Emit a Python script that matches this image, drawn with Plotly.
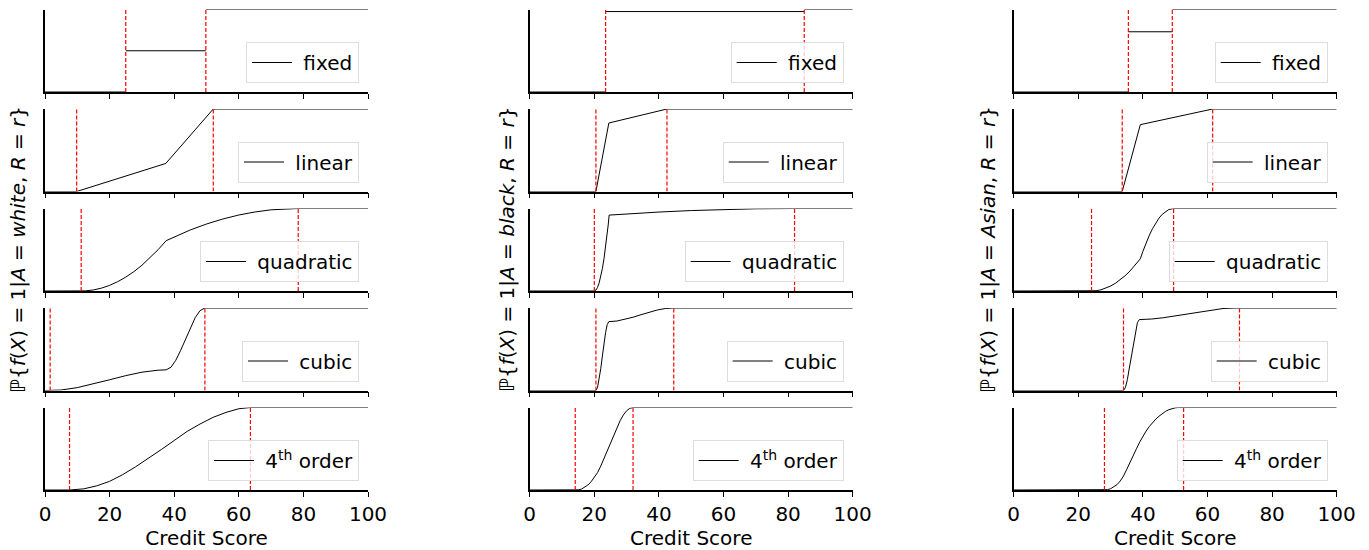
import plotly.graph_objects as go

# ---------------- data ----------------
groups = ["white", "black", "Asian"]
methods = ["fixed", "linear", "quadratic", "cubic", "4th order"]
legend_labels = ["fixed", "linear", "quadratic", "cubic", "4<sup>th</sup> order"]
x_ticks = [0, 20, 40, 60, 80, 100]

# thresholds (lower, upper) per method, for each group
white_thresholds = [(25.0, 49.8), (9.8, 52.1), (11.2, 78.4), (1.6, 49.5), (7.6, 63.6)]
black_thresholds = [(23.5, 85.0), (20.5, 42.5), (20.0, 82.0), (20.5, 44.6), (14.1, 32.0)]
asian_thresholds = [(35.5, 49.1), (33.6, 61.6), (24.1, 49.5), (34.0, 69.9), (28.1, 52.6)]

# ---- white ----
white_fixed_x = [0, 25.0, None, 25.0, 49.8, None, 49.8, 100]
white_fixed_y = [0, 0, None, 0.5, 0.5, None, 1, 1]
white_linear_x = [0, 9.8, 37.4, 52.1, 100]
white_linear_y = [0, 0, 0.34, 1, 1]
white_quad_x = [0, 11.2, 12.5, 15, 17.5, 20, 22.5, 25, 27.5, 30, 32.5, 35, 37.5,
                40, 45, 50, 55, 60, 65, 70, 75, 78.4, 100]
white_quad_y = [0, 0, 0.0015, 0.013, 0.035, 0.068, 0.113, 0.168, 0.234, 0.312, 0.4, 0.5, 0.61,
                0.656, 0.74, 0.812, 0.872, 0.921, 0.958, 0.984, 0.997, 1, 1]
white_cubic_x = [0, 1.6, 5, 10, 15, 20, 25, 30, 35, 37.5, 39, 40.5, 42, 43.5, 45, 46.5, 48, 49.5, 100]
white_cubic_y = [0, 0, 0.006, 0.035, 0.078, 0.13, 0.18, 0.222, 0.246, 0.25, 0.282, 0.367, 0.487,
                 0.625, 0.763, 0.883, 0.968, 1, 1]
white_quart_x = [0, 7.6, 12, 16, 20, 24, 28, 32, 36, 40, 44, 48, 52, 56, 60, 63.6, 100]
white_quart_y = [0, 0, 0.014, 0.05, 0.105, 0.185, 0.28, 0.38, 0.49, 0.6, 0.71, 0.8, 0.88, 0.94,
                 0.985, 1, 1]

# ---- black ----
black_fixed_x = [0, 23.5, None, 23.5, 85.0, None, 85.0, 100]
black_fixed_y = [0, 0, None, 0.975, 0.975, None, 1, 1]
black_linear_x = [0, 20.5, 24.5, 42.5, 100]
black_linear_y = [0, 0, 0.83, 1, 1]
black_quad_x = [0, 20, 20.5, 21, 21.5, 22, 22.5, 23, 23.5, 24, 24.3, 24.6, 30, 40, 50, 60, 70, 82, 100]
black_quad_y = [0, 0, 0.011, 0.043, 0.098, 0.174, 0.272, 0.391, 0.535, 0.696, 0.8, 0.92,
                0.934, 0.957, 0.975, 0.988, 0.9965, 1, 1]
black_cubic_x = [0, 20.5, 21, 21.5, 22, 22.5, 23, 23.5, 24, 24.5, 27, 29.5, 32, 34.5, 37, 39.5, 42, 44.3, 100]
black_cubic_y = [0, 0, 0.036, 0.13, 0.264, 0.418, 0.571, 0.705, 0.799, 0.835, 0.842, 0.861,
                 0.888, 0.919, 0.949, 0.976, 0.994, 1, 1]
black_quart_x = [0, 14.1, 15, 16, 17, 18, 19, 20, 21, 22, 23, 24, 25, 26, 27, 28, 29, 30, 31, 32, 100]
black_quart_y = [0, 0, 0.002, 0.01, 0.03, 0.06, 0.1, 0.15, 0.21, 0.29, 0.38, 0.47, 0.57, 0.67,
                 0.76, 0.84, 0.91, 0.96, 0.99, 1, 1]

# ---- Asian ----
asian_fixed_x = [0, 35.5, None, 35.5, 49.1, None, 49.1, 100]
asian_fixed_y = [0, 0, None, 0.73, 0.73, None, 1, 1]
asian_linear_x = [0, 33.6, 39.2, 61.6, 100]
asian_linear_y = [0, 0, 0.81, 1, 1]
asian_quad_x = [0, 24.1, 25.5, 27, 28.5, 30, 31.5, 33, 34.5, 36, 37.5, 39.2,
                40, 41, 42, 43, 44, 45, 46, 47, 48, 49.5, 100]
asian_quad_y = [0, 0, 0.0034, 0.014, 0.033, 0.06, 0.094, 0.135, 0.185, 0.242, 0.307, 0.39,
                0.481, 0.585, 0.677, 0.757, 0.826, 0.884, 0.93, 0.964, 0.987, 1, 1]
asian_cubic_x = [0, 34, 34.6, 35.2, 35.8, 36.5, 37.1, 37.7, 38.3, 38.9, 42.6, 46.3, 50, 53.7,
                 57.4, 61.1, 64.8, 68.5, 100]
asian_cubic_y = [0, 0, 0.037, 0.134, 0.272, 0.43, 0.588, 0.726, 0.823, 0.86, 0.866, 0.882,
                 0.904, 0.93, 0.956, 0.978, 0.994, 1, 1]
asian_quart_x = [0, 28.1, 29, 30, 31, 32, 33, 34, 35, 36, 37, 38, 39, 40, 41, 42, 43, 44, 45,
                 46, 47, 48, 49, 50, 51, 52.6, 100]
asian_quart_y = [0, 0, 0.004, 0.015, 0.035, 0.065, 0.11, 0.17, 0.25, 0.34, 0.42, 0.5, 0.58,
                 0.655, 0.715, 0.77, 0.82, 0.86, 0.895, 0.927, 0.953, 0.973, 0.987, 0.996,
                 1, 1, 1]

curves = {
    "white": [(white_fixed_x, white_fixed_y), (white_linear_x, white_linear_y),
              (white_quad_x, white_quad_y), (white_cubic_x, white_cubic_y),
              (white_quart_x, white_quart_y)],
    "black": [(black_fixed_x, black_fixed_y), (black_linear_x, black_linear_y),
              (black_quad_x, black_quad_y), (black_cubic_x, black_cubic_y),
              (black_quart_x, black_quart_y)],
    "Asian": [(asian_fixed_x, asian_fixed_y), (asian_linear_x, asian_linear_y),
              (asian_quad_x, asian_quad_y), (asian_cubic_x, asian_cubic_y),
              (asian_quart_x, asian_quart_y)],
}
thresholds = {"white": white_thresholds, "black": black_thresholds, "Asian": asian_thresholds}

# ---------------- layout geometry (pixels) ----------------
W, H = 1369, 550
FONT = "DejaVu Sans"
FS = 20
col_left = [45.0, 529.7, 1013.7]
col_width = 323.0
row_top0, row_step, row_h = 9.5, 99.5, 82.5

fig = go.Figure()
layout = dict(
    width=W, height=H, autosize=False,
    margin=dict(l=0, r=0, t=0, b=0, autoexpand=False),
    paper_bgcolor="white", plot_bgcolor="white",
    font=dict(family=FONT, size=FS, color="black"),
    annotations=[],
)

for c, g in enumerate(groups):
    for r, m in enumerate(methods):
        k = r * 3 + c + 1
        xa = "x" if k == 1 else f"x{k}"
        ya = "y" if k == 1 else f"y{k}"
        leg = "legend" if k == 1 else f"legend{k}"
        x0 = col_left[c] / W
        x1 = (col_left[c] + col_width) / W
        top = row_top0 + r * row_step
        bot = top + row_h
        y0 = 1 - bot / H
        y1 = 1 - top / H

        cx, cy = curves[g][r]
        fig.add_trace(go.Scatter(
            x=cx, y=cy, mode="lines", name="\u00a0" + legend_labels[r],
            line=dict(color="black", width=1), xaxis=xa, yaxis=ya,
            legend=leg, showlegend=True, connectgaps=False,
        ))
        for t in thresholds[g][r]:
            fig.add_trace(go.Scatter(
                x=[t, t], y=[0, 1], mode="lines",
                line=dict(color="#ff0000", width=1.2, dash="4px,2px"),
                xaxis=xa, yaxis=ya, showlegend=False, hoverinfo="skip",
            ))

        bottom_row = (r == len(methods) - 1)
        layout["xaxis" if k == 1 else f"xaxis{k}"] = dict(
            domain=[x0, x1], anchor=ya, range=[0, 100], automargin=False,
            showgrid=False, zeroline=False,
            showline=True, linecolor="black", linewidth=1.5,
            ticks="outside", ticklen=5, tickwidth=1.3, tickcolor="black",
            tickvals=x_ticks, ticktext=[str(v) for v in x_ticks],
            showticklabels=bottom_row,
            tickfont=dict(family=FONT, size=FS, color="black"),
            title=dict(text="Credit Score" if bottom_row else "",
                       font=dict(family=FONT, size=FS, color="black"), standoff=4),
        )
        layout["yaxis" if k == 1 else f"yaxis{k}"] = dict(
            domain=[y0, y1], anchor=xa, range=[0, 1], automargin=False,
            showgrid=False, zeroline=False,
            showline=True, linecolor="black", linewidth=1.5,
            ticks="", showticklabels=False,
        )
        layout[leg] = dict(
            x=(col_left[c] + col_width - 9) / W, xanchor="right",
            y=1 - (bot - 9) / H, yanchor="bottom",
            bgcolor="rgba(255,255,255,0.8)", bordercolor="#dddddd", borderwidth=1,
            font=dict(family=FONT, size=FS, color="black"),
            itemwidth=40, tracegroupgap=0,
        )

ylabel_x = [18, 507, 988]
for c, g in enumerate(groups):
    txt = ("ℙ{<i>f</i>(<i>X</i>) = 1|<i>A</i> = <i>" + g +
           "</i>, <i>R</i> = <i>r</i>}")
    layout["annotations"].append(dict(
        text=txt, xref="paper", yref="paper",
        x=ylabel_x[c] / W, y=1 - 250 / H,
        xanchor="center", yanchor="middle", textangle=-90, showarrow=False,
        font=dict(family=FONT, size=FS, color="black"),
    ))

fig.update_layout(**layout)
fig.write_html(
    "out.html",
    config={"displayModeBar": False},
    post_script="document.body.style.margin='0';document.body.style.overflow='hidden';",
)
